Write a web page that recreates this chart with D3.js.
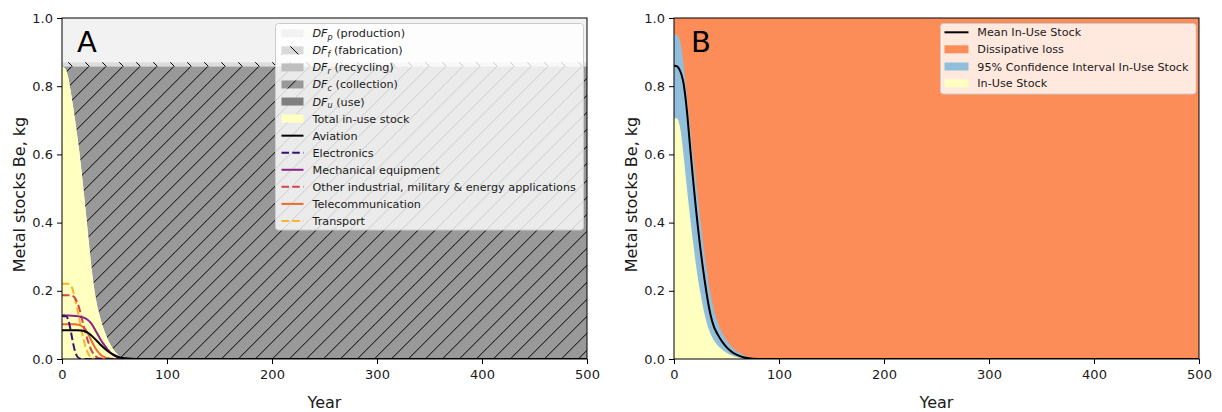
<!DOCTYPE html>
<html>
<head>
<meta charset="utf-8">
<script src="https://cdn.jsdelivr.net/npm/d3@7"></script>
<style>
  html, body { margin: 0; padding: 0; background: #fff; }
  svg { display: block; font-family: "DejaVu Sans", sans-serif; }
</style>
</head>
<body>
<svg id="chart" width="1222" height="412"></svg>
<script>
// ---------------- DATA ----------------
const xTicks = [0, 100, 200, 300, 400, 500];
const yTicks = [0, 0.2, 0.4, 0.6, 0.8, 1.0];

// Panel A: total in-use stock [year, kg]
const totalStockA = [[0,0.857],[3,0.852],[6,0.825],[8,0.79],[12,0.71],[16,0.62],[20,0.51],[24,0.39],[28,0.27],[32,0.18],[36,0.125],[40,0.085],[44,0.055],[48,0.032],[52,0.016],[56,0.006],[60,0.002],[66,0],[500,0]];
// Panel A: dissipation-flow band boundaries (collection top, fabrication top, production top)
const dfBoundaries = [0.858, 0.870, 1.0];
// Panel A: sector stocks [year, kg]
const aviation = [[0,0.084],[15,0.084],[20,0.083],[24,0.078],[28,0.069],[32,0.057],[36,0.044],[40,0.032],[44,0.022],[48,0.014],[52,0.008],[56,0.004],[60,0.002],[66,0.0005],[75,0],[500,0]];
const electronics = [[0,0.126],[4,0.125],[6,0.115],[8,0.088],[10,0.055],[12,0.027],[14,0.01],[16,0.003],[19,0],[500,0]];
const mechanical = [[0,0.128],[10,0.127],[16,0.125],[20,0.122],[24,0.116],[28,0.104],[32,0.083],[36,0.061],[40,0.042],[44,0.026],[48,0.014],[52,0.006],[56,0.002],[62,0],[500,0]];
const otherIndustrial = [[0,0.187],[8,0.187],[11,0.183],[13,0.175],[15,0.162],[17,0.142],[19,0.117],[21,0.093],[23,0.07],[25,0.05],[27,0.033],[29,0.02],[31,0.011],[34,0.004],[38,0.001],[42,0],[500,0]];
const telecommunication = [[0,0.102],[12,0.102],[16,0.1],[19,0.096],[22,0.088],[25,0.073],[28,0.054],[31,0.036],[34,0.022],[37,0.012],[40,0.006],[44,0.002],[50,0],[500,0]];
const transport = [[0,0.221],[5,0.221],[8,0.217],[10,0.205],[12,0.182],[14,0.155],[16,0.125],[18,0.093],[20,0.064],[22,0.04],[24,0.022],[26,0.01],[28,0.004],[31,0.001],[35,0],[500,0]];

const sectorNames = ["Aviation","Electronics","Mechanical equipment","Other industrial, military & energy applications","Telecommunication","Transport"];
const sectorSeries = [aviation, electronics, mechanical, otherIndustrial, telecommunication, transport];
const sectorColors = ["#000000","#3b0f70","#8c2381","#d0434f","#ee6a2c","#fbb32a"];
const sectorDashed = [false, true, false, true, false, true];

// Panel B [year, kg]
const meanStockB = [[0,0.86],[3,0.858],[5,0.85],[7,0.835],[9,0.81],[11,0.765],[13,0.705],[15,0.633],[17,0.565],[19,0.5],[21,0.438],[23,0.38],[25,0.327],[27,0.279],[29,0.234],[31,0.193],[33,0.157],[35,0.127],[38,0.095],[42,0.07],[46,0.05],[50,0.035],[55,0.021],[60,0.012],[66,0.005],[75,0.001],[85,0],[500,0]];
const upperCIB = [[0,0.952],[3,0.95],[5,0.94],[7,0.915],[9,0.87],[11,0.81],[13,0.75],[15,0.69],[17,0.63],[19,0.575],[21,0.52],[23,0.465],[25,0.41],[27,0.36],[29,0.31],[31,0.265],[33,0.222],[35,0.186],[38,0.145],[42,0.105],[46,0.076],[50,0.055],[55,0.035],[60,0.022],[66,0.012],[75,0.004],[85,0.001],[95,0],[500,0]];
const lowerCIB = [[0,0.707],[3,0.705],[5,0.69],[7,0.655],[9,0.6],[11,0.54],[13,0.48],[15,0.425],[17,0.372],[19,0.322],[21,0.274],[23,0.232],[25,0.196],[27,0.163],[29,0.133],[31,0.108],[34,0.08],[37,0.06],[41,0.042],[45,0.03],[50,0.018],[55,0.01],[62,0.004],[70,0.001],[80,0],[500,0]];

// ---------------- LAYOUT ----------------
const svg = d3.select("#chart");
const yTop = 18, yBot = 359;
const panels = [{x0: 62, x1: 587}, {x0: 674, x1: 1199}];

const defs = svg.append("defs");
function hatch(id, fwd, offset) {
  const p = defs.append("pattern").attr("id", id).attr("patternUnits", "userSpaceOnUse")
    .attr("width", 17).attr("height", 17).attr("patternTransform", `translate(${offset},0)`);
  const d = fwd ? "M0,17L17,0M-2,2L2,-2M15,19L19,15" : "M0,0L17,17M-2,15L2,19M15,-2L19,2";
  p.append("path").attr("d", d).attr("stroke", "#000").attr("stroke-width", 1).attr("fill", "none");
}
hatch("hFwd", true, 2.3);
hatch("hBack", false, 6);

function makeScales(p) {
  return {
    x: d3.scaleLinear().domain([0, 500]).range([p.x0, p.x1]),
    y: d3.scaleLinear().domain([0, 1]).range([yBot, yTop])
  };
}

function drawAxes(g, s, p) {
  const xa = g.append("g").attr("transform", `translate(0,${yBot})`)
    .call(d3.axisBottom(s.x).tickValues(xTicks).tickSize(5).tickPadding(6).tickFormat(d3.format("d")));
  const ya = g.append("g").attr("transform", `translate(${p.x0},0)`)
    .call(d3.axisLeft(s.y).tickValues(yTicks).tickSize(5).tickPadding(4).tickFormat(d3.format(".1f")));
  [xa, ya].forEach(a => {
    a.select(".domain").remove();
    a.selectAll("line").attr("stroke", "#000").attr("stroke-width", 1);
    a.selectAll("text").attr("font-size", 13).attr("fill", "#1a1a1a").attr("font-family", "DejaVu Sans");
  });
  g.append("rect").attr("x", p.x0).attr("y", yTop).attr("width", p.x1 - p.x0).attr("height", yBot - yTop)
    .attr("fill", "none").attr("stroke", "#000").attr("stroke-width", 1);
  g.append("text").attr("x", (p.x0 + p.x1) / 2).attr("y", 408).attr("text-anchor", "middle")
    .attr("font-size", 16).attr("fill", "#1a1a1a").text("Year");
  g.append("text").attr("transform", `translate(${p.x0 - 37},${(yTop + yBot) / 2 + 6}) rotate(-90)`)
    .attr("text-anchor", "middle").attr("font-size", 16).attr("fill", "#1a1a1a").text("Metal stocks Be, kg");
}

const curve = d3.curveMonotoneX;

// ---------------- PANEL A ----------------
{
  const p = panels[0], s = makeScales(p);
  const g = svg.append("g");
  defs.append("clipPath").attr("id", "clipA").append("rect")
    .attr("x", p.x0).attr("y", yTop).attr("width", p.x1 - p.x0).attr("height", yBot - yTop);
  const pg = g.append("g").attr("clip-path", "url(#clipA)");
  const span = [[0], [500]];
  const band = (lo, hi) => d3.area().x(d => s.x(d[0])).y0(s.y(lo)).y1(s.y(hi));
  pg.append("path").attr("d", band(dfBoundaries[1], dfBoundaries[2])(span)).attr("fill", "#f2f2f2");
  pg.append("path").attr("d", band(dfBoundaries[0], dfBoundaries[1])(span)).attr("fill", "#dcdcdc");
  pg.append("path").attr("d", band(dfBoundaries[0], dfBoundaries[1])(span)).attr("fill", "url(#hBack)");
  const coll = d3.area().x(d => s.x(d[0])).y0(d => s.y(d[1])).y1(s.y(dfBoundaries[0])).curve(curve);
  pg.append("path").attr("d", coll(totalStockA)).attr("fill", "#999999");
  pg.append("path").attr("d", coll(totalStockA)).attr("fill", "url(#hFwd)");
  const stockArea = d3.area().x(d => s.x(d[0])).y0(s.y(0)).y1(d => s.y(d[1])).curve(curve);
  pg.append("path").attr("d", stockArea(totalStockA)).attr("fill", "#ffffbf");
  const line = d3.line().x(d => s.x(d[0])).y(d => s.y(d[1])).curve(curve);
  // draw in reverse so Aviation lies on top along the zero line
  for (let i = sectorSeries.length - 1; i >= 0; i--) {
    pg.append("path").attr("d", line(sectorSeries[i])).attr("fill", "none")
      .attr("stroke", sectorColors[i]).attr("stroke-width", 2)
      .attr("stroke-dasharray", sectorDashed[i] ? "7.5,3.3" : null);
  }
  drawAxes(g, s, p);
  g.append("text").attr("x", 77).attr("y", 52).attr("font-size", 29).attr("fill", "#000").text("A");

  const L = g.append("g");
  L.append("rect").attr("x", 275.5).attr("y", 23.5).attr("width", 308).attr("height", 206.5).attr("rx", 3)
    .attr("fill", "#fff").attr("fill-opacity", 0.8).attr("stroke", "#cccccc").attr("stroke-width", 1);
  const rowY = i => 33.3 + i * 17.06;
  const hx0 = 281.5, hx1 = 303.5, tx = 312.5;
  const dfItems = [
    {fill: "#f2f2f2", hatch: null, sub: "p", label: " (production)"},
    {fill: "#d9d9d9", hatch: "hBack", sub: "f", label: " (fabrication)"},
    {fill: "#bfbfbf", hatch: null, sub: "r", label: " (recycling)"},
    {fill: "#999999", hatch: "hFwd", sub: "c", label: " (collection)"},
    {fill: "#7f7f7f", hatch: null, sub: "u", label: " (use)"}
  ];
  dfItems.forEach((it, i) => {
    const y = rowY(i);
    L.append("rect").attr("x", hx0).attr("y", y - 4).attr("width", hx1 - hx0).attr("height", 8).attr("fill", it.fill);
    if (it.hatch) L.append("rect").attr("x", hx0).attr("y", y - 4).attr("width", hx1 - hx0).attr("height", 8).attr("fill", `url(#${it.hatch})`);
    const t = L.append("text").attr("x", tx).attr("y", y + 4).attr("font-size", 11.2).attr("fill", "#1a1a1a");
    t.append("tspan").attr("font-style", "italic").text("DF");
    t.append("tspan").attr("font-style", "italic").attr("font-size", 8).attr("dy", 2.5).text(it.sub);
    t.append("tspan").attr("dy", -2.5).text(it.label);
  });
  {
    const y = rowY(5);
    L.append("rect").attr("x", hx0).attr("y", y - 4).attr("width", hx1 - hx0).attr("height", 8).attr("fill", "#ffffbf");
    L.append("text").attr("x", tx).attr("y", y + 4).attr("font-size", 11.2).attr("fill", "#1a1a1a").text("Total in-use stock");
  }
  sectorNames.forEach((n, i) => {
    const y = rowY(6 + i);
    L.append("line").attr("x1", hx0).attr("x2", hx1).attr("y1", y).attr("y2", y)
      .attr("stroke", sectorColors[i]).attr("stroke-width", 2)
      .attr("stroke-dasharray", sectorDashed[i] ? "7.5,3.3" : null);
    L.append("text").attr("x", tx).attr("y", y + 4).attr("font-size", 11.2).attr("fill", "#1a1a1a").text(n);
  });
}

// ---------------- PANEL B ----------------
{
  const p = panels[1], s = makeScales(p);
  const g = svg.append("g");
  defs.append("clipPath").attr("id", "clipB").append("rect")
    .attr("x", p.x0).attr("y", yTop).attr("width", p.x1 - p.x0).attr("height", yBot - yTop);
  const pg = g.append("g").attr("clip-path", "url(#clipB)");
  pg.append("path").attr("d", d3.area().x(d => s.x(d[0])).y0(s.y(0)).y1(s.y(1))([[0], [500]])).attr("fill", "#fc8d59");
  const area = d3.area().x(d => s.x(d[0])).y0(s.y(0)).y1(d => s.y(d[1])).curve(curve);
  pg.append("path").attr("d", area(upperCIB)).attr("fill", "#91bfdb");
  pg.append("path").attr("d", area(lowerCIB)).attr("fill", "#ffffbf");
  const line = d3.line().x(d => s.x(d[0])).y(d => s.y(d[1])).curve(curve);
  pg.append("path").attr("d", line(meanStockB)).attr("fill", "none").attr("stroke", "#000").attr("stroke-width", 2);
  drawAxes(g, s, p);
  g.append("text").attr("x", 691).attr("y", 52).attr("font-size", 29).attr("fill", "#000").text("B");

  const L = g.append("g");
  L.append("rect").attr("x", 940.5).attr("y", 23.5).attr("width", 255.5).attr("height", 70.5).attr("rx", 3)
    .attr("fill", "#fff").attr("fill-opacity", 0.8).attr("stroke", "#cccccc").attr("stroke-width", 1);
  const rows = [32.3, 49.3, 66.5, 83.3];
  const hx0 = 944.5, hx1 = 968.5, tx = 977.3;
  L.append("line").attr("x1", hx0).attr("x2", hx1).attr("y1", rows[0]).attr("y2", rows[0]).attr("stroke", "#000").attr("stroke-width", 2);
  const fills = [null, "#fc8d59", "#91bfdb", "#ffffbf"];
  const labels = ["Mean In-Use Stock", "Dissipative loss", "95% Confidence Interval In-Use Stock", "In-Use Stock"];
  labels.forEach((t, i) => {
    if (fills[i]) L.append("rect").attr("x", hx0).attr("y", rows[i] - 4).attr("width", hx1 - hx0).attr("height", 8).attr("fill", fills[i]);
    L.append("text").attr("x", tx).attr("y", rows[i] + 4).attr("font-size", 11.2).attr("fill", "#1a1a1a").text(t);
  });
}
</script>
</body>
</html>
